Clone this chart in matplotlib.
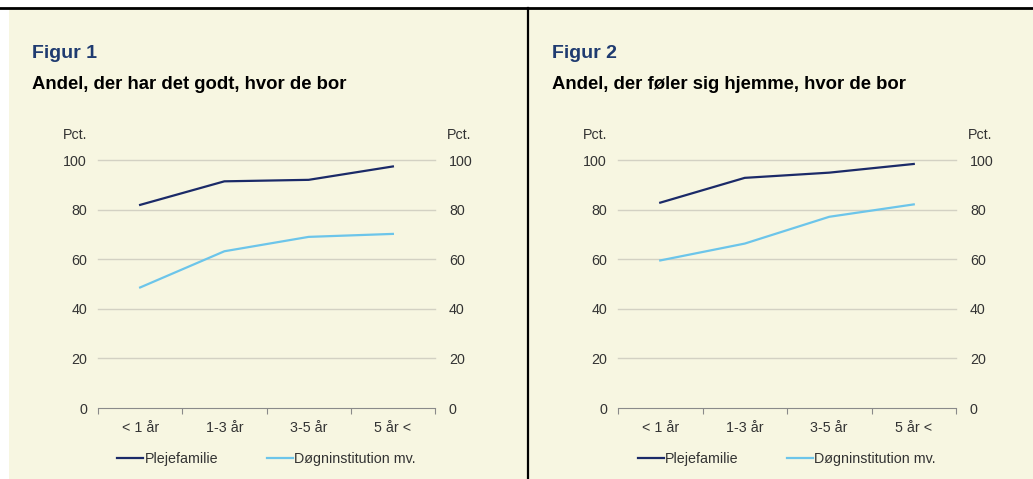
import matplotlib
matplotlib.use('Agg')
import matplotlib.pyplot as plt
from matplotlib.patches import Rectangle
from matplotlib.lines import Line2D

plt.rcParams['font.family'] = ['Liberation Sans', 'DejaVu Sans']

# data
kategorier = ['< 1 år', '1-3 år', '3-5 år', '5 år <']
serie_navne = ['Plejefamilie', 'Døgninstitution mv.']
fig1_pleje = [81.9, 91.4, 92.0, 97.4]
fig1_doegn = [48.6, 63.2, 69.0, 70.2]
fig2_pleje = [82.8, 92.8, 94.9, 98.4]
fig2_doegn = [59.5, 66.3, 77.1, 82.1]
yticks = [0, 20, 40, 60, 80, 100]
titler = ['Figur 1', 'Figur 2']
undertitler = ['Andel, der har det godt, hvor de bor',
               'Andel, der føler sig hjemme, hvor de bor']

BG = '#f7f6e1'
NAVY = '#1b2a68'
LIGHT = '#6cc5ea'
GRID = '#d3d1c3'
TXT = '#333333'

W, H = 1033, 479
fig = plt.figure(figsize=(W / 100, H / 100), dpi=100, facecolor=BG)

# hvide kanter + sorte streger
fig.patches.append(Rectangle((0, 1 - 7 / H), 1, 7 / H, transform=fig.transFigure,
                             facecolor='white', edgecolor='none', zorder=0))
fig.patches.append(Rectangle((0, 0), 9 / W, 1, transform=fig.transFigure,
                             facecolor='white', edgecolor='none', zorder=0))
fig.lines.append(Line2D([0, 1], [1 - 8 / H, 1 - 8 / H], transform=fig.transFigure,
                        color='black', lw=2))
fig.lines.append(Line2D([528 / W, 528 / W], [0, 1 - 8 / H], transform=fig.transFigure,
                        color='black', lw=1.6))


def px_axes(x0, x1, ytop, ybot):
    return fig.add_axes([x0 / W, (H - ybot) / H, (x1 - x0) / W, (ybot - ytop) / H])


paneler = [
    (98, 435, 32, fig1_pleje, fig1_doegn),
    (618, 956, 552, fig2_pleje, fig2_doegn),
]

for i, (x0, x1, tx, pleje, doegn) in enumerate(paneler):
    ax = px_axes(x0, x1, 160, 408)
    ax.set_facecolor('none')
    ax.plot(kategorier, pleje, color=NAVY, lw=1.6, label=serie_navne[0], zorder=3)
    ax.plot(kategorier, doegn, color=LIGHT, lw=1.6, label=serie_navne[1], zorder=3)
    ax.set_xlim(-0.5, 3.5)
    ax.set_ylim(0, 100)
    ax.set_yticks(yticks)
    for y in yticks[1:]:
        ax.axhline(y, color=GRID, lw=1, zorder=1, clip_on=False)
    for s in ['top', 'right', 'left']:
        ax.spines[s].set_visible(False)
    ax.spines['bottom'].set_color('#8a8a8a')
    ax.spines['bottom'].set_linewidth(0.8)
    ax.tick_params(axis='y', length=0, pad=8, labelsize=10.3, labelcolor=TXT)
    ax.tick_params(axis='x', which='major', length=0, pad=9, labelsize=10.3, labelcolor=TXT)
    ax.set_xticks([-0.5, 0.5, 1.5, 2.5, 3.5], minor=True)
    ax.tick_params(axis='x', which='minor', length=4, color='#8a8a8a', width=0.8)

    ax2 = ax.twinx()
    ax2.set_ylim(0, 100)
    ax2.set_yticks(yticks)
    for s in ax2.spines.values():
        s.set_visible(False)
    ax2.tick_params(axis='y', length=0, pad=10, labelsize=10.3, labelcolor=TXT)

    ax.text(-11 / (x1 - x0), 1.1, 'Pct.', transform=ax.transAxes, ha='right',
            va='center', fontsize=10.3, color=TXT)
    ax.text(1 + 12 / (x1 - x0), 1.1, 'Pct.', transform=ax.transAxes, ha='left',
            va='center', fontsize=10.3, color=TXT)

    fig.text(tx / W, 1 - 58.5 / H, titler[i], fontsize=14, fontweight='bold',
             color='#1f3b70', va='baseline')
    fig.text(tx / W, 1 - 89 / H, undertitler[i], fontsize=13.3, fontweight='bold',
             color='black', va='baseline')

    ax.legend(loc='center', bbox_to_anchor=(0.5, -0.206), ncol=2, frameon=False,
              fontsize=10.3, handlelength=1.8, handletextpad=0.1, columnspacing=3.4,
              labelcolor=TXT)

fig.savefig('out.png', dpi=100, facecolor=BG)
